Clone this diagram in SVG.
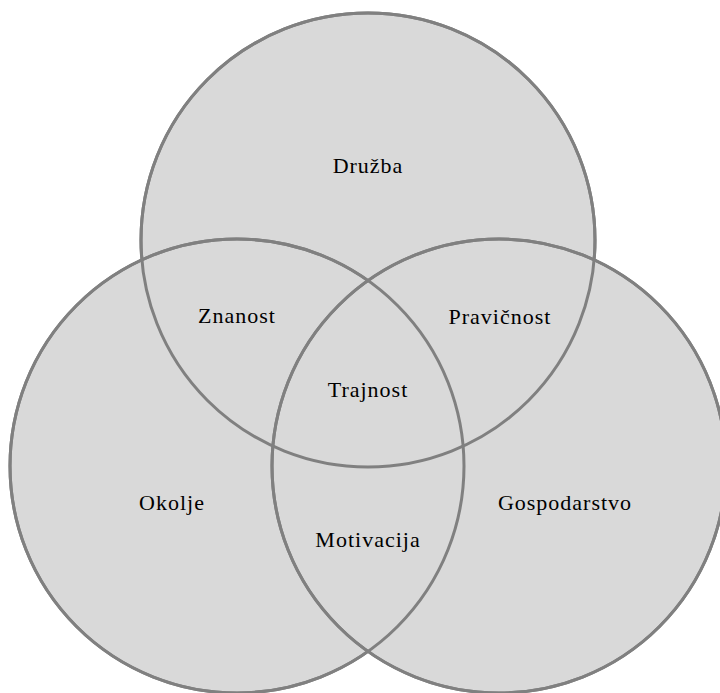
<svg xmlns="http://www.w3.org/2000/svg" width="720" height="693" viewBox="0 0 720 693">
<style>
.c{fill:#d9d9d9;stroke:#808080;stroke-width:3}
.o{fill:none;stroke:#808080;stroke-width:3}
text{font-family:"Liberation Serif","Times New Roman",serif;font-size:22px;fill:#000;text-anchor:middle;letter-spacing:1px}
</style>
<g id="circles">
<circle class="c" cx="368" cy="240" r="227"/>
<circle class="c" cx="237" cy="466" r="227"/>
<circle class="c" cx="499" cy="466" r="227"/>
</g>
<g id="outlines">
<circle class="o" cx="368" cy="240" r="227"/>
<circle class="o" cx="237" cy="466" r="227"/>
<circle class="o" cx="499" cy="466" r="227"/>
</g>
<g id="druzba"><text x="368" y="173">Družba</text></g>
<g id="znanost"><text x="237" y="323">Znanost</text></g>
<g id="pravicnost"><text x="500" y="324">Pravičnost</text></g>
<g id="trajnost"><text x="368" y="397">Trajnost</text></g>
<g id="okolje"><text x="172" y="510">Okolje</text></g>
<g id="gospodarstvo"><text x="565" y="510">Gospodarstvo</text></g>
<g id="motivacija"><text x="368" y="547">Motivacija</text></g>
</svg>
